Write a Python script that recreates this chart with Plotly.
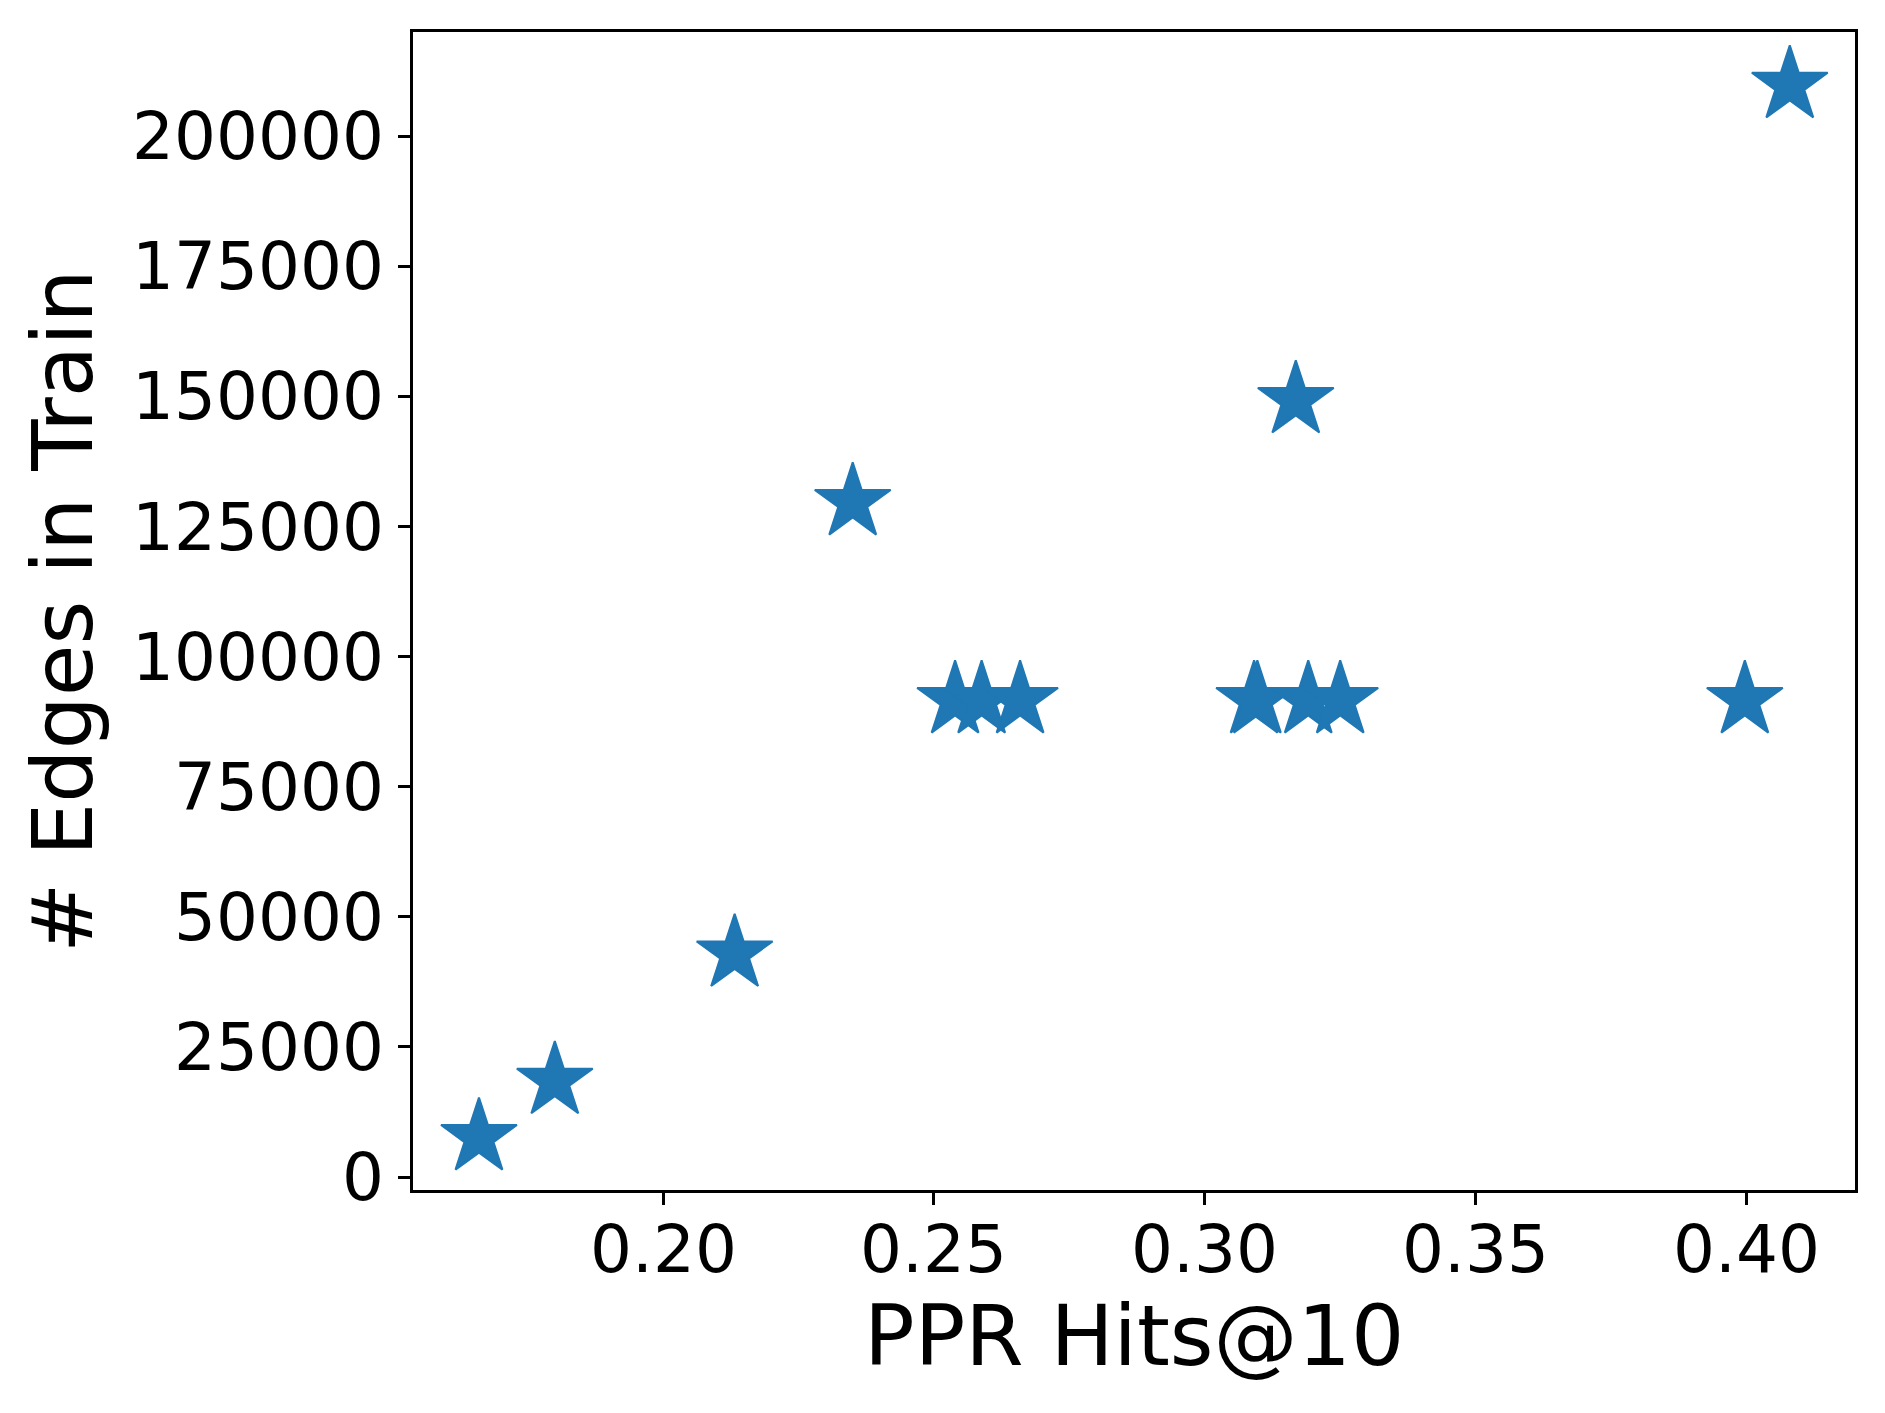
import plotly.graph_objects as go

# Data
ppr_hits = [0.166, 0.180, 0.2132, 0.2350, 0.2539, 0.2588, 0.2659,
            0.3091, 0.3097, 0.3168, 0.3191, 0.3250, 0.3997, 0.4080]
edges_train = [7620, 18450, 42900, 129640, 91600, 91600, 91600,
               91600, 91600, 149250, 91600, 91600, 91600, 209800]

x_tick_vals = [0.20, 0.25, 0.30, 0.35, 0.40]
x_tick_text = ["0.20", "0.25", "0.30", "0.35", "0.40"]
y_tick_vals = [0, 25000, 50000, 75000, 100000, 125000, 150000, 175000, 200000]
y_tick_text = ["0", "25000", "50000", "75000", "100000", "125000", "150000", "175000", "200000"]

x_title = "PPR Hits@10"
y_title = "# Edges in Train"

COLOR = "#1f77b4"
FONT = "DejaVu Sans"

fig = go.Figure()
fig.add_trace(go.Scatter(
    x=ppr_hits, y=edges_train, mode="markers",
    marker=dict(symbol="star", size=57, color=COLOR,
                line=dict(color=COLOR, width=2)),
    showlegend=False,
))

axis_common = dict(
    showgrid=False, zeroline=False, showline=True, linecolor="black",
    linewidth=2.7, mirror=True, ticks="outside", ticklen=12, tickwidth=2.7,
    tickcolor="black", tickfont=dict(family=FONT, size=66, color="black"),
)

fig.update_xaxes(range=[0.15382, 0.42004], tickvals=x_tick_vals,
                 showticklabels=False, **axis_common)
fig.update_yaxes(range=[-2494, 220010], tickvals=y_tick_vals,
                 ticktext=y_tick_text, ticklabelstandoff=1, **axis_common)

# x tick labels placed at the axis values
for v, t in zip(x_tick_vals, x_tick_text):
    fig.add_annotation(text=t, xref="x", yref="paper", x=v, y=0,
                       xanchor="center", yanchor="middle", yshift=-59,
                       showarrow=False,
                       font=dict(family=FONT, size=66, color="black"))

fig.add_annotation(text=x_title, xref="paper", yref="paper", x=0.5, y=0,
                   xanchor="center", yanchor="middle", yshift=-146,
                   showarrow=False, font=dict(family=FONT, size=84, color="black"))
fig.add_annotation(text=y_title, xref="paper", yref="paper", x=0, y=0.5,
                   xanchor="center", yanchor="middle", xshift=-350,
                   textangle=-90, showarrow=False,
                   font=dict(family=FONT, size=84, color="black"))

fig.update_layout(
    width=1885, height=1413,
    margin=dict(l=405, r=38, t=24, b=231),
    paper_bgcolor="white", plot_bgcolor="white",
    font=dict(family=FONT, color="black"),
)

fig.write_html("out.html")
